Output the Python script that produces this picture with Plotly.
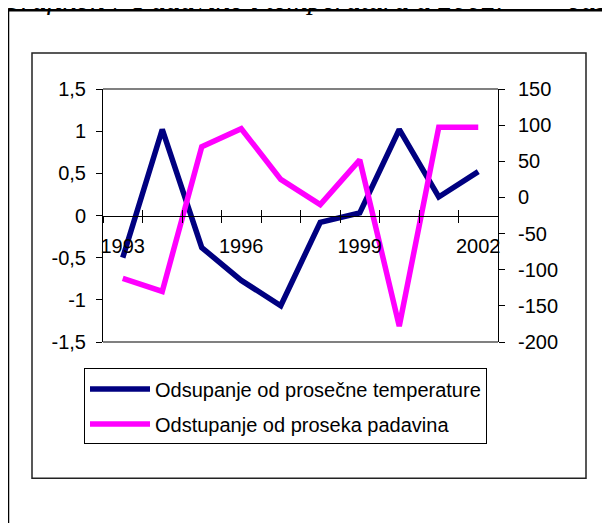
import plotly.graph_objects as go

years = [1993, 1994, 1995, 1996, 1997, 1998, 1999, 2000, 2001, 2002]
temp_dev = [-0.50, 1.02, -0.38, -0.77, -1.07, -0.08, 0.03, 1.02, 0.22, 0.52]
precip_dev = [-112, -130, 70, 95, 25, -10, 52, -178, 97, 97]

temp_name = "Odsupanje od prosečne temperature"
precip_name = "Odstupanje od proseka padavina"

x_label_years = [1993, 1996, 1999, 2002]
left_ticks = [-1.5, -1.0, -0.5, 0.0, 0.5, 1.0, 1.5]
left_labels = ["-1,5", "-1", "-0,5", "0", "0,5", "1", "1,5"]
right_ticks = [-200, -150, -100, -50, 0, 50, 100, 150]
right_labels = ["-200", "-150", "-100", "-50", "0", "50", "100", "150"]

title_text = "Grafikon 7 Padavine i temperatura u 2002."
title_tail = "ous"

boundaries = [y - 0.5 for y in years] + [years[-1] + 0.5]

# page body has an 8px margin; compensate so window pixels match
OFF = 8
W, H = 610, 523
PL, PR, PT, PB = 103, 498, 89, 342.5  # plot area in window pixels
L = PL - OFF
T = PT - OFF
R = W - (PR - OFF)
B = H - (PB - OFF)
pw = PR - PL
ph = PB - PT

def px(xp):
    return (xp - PL) / pw

def py(yp):
    return (PB - yp) / ph

FONT = "Liberation Sans, Arial, sans-serif"
FS = 20

fig = go.Figure()
fig.add_trace(go.Scatter(x=years, y=temp_dev, mode="lines", name=temp_name,
                         line=dict(color="#000080", width=5.5), legendgroup="a",
                         xaxis="x", yaxis="y"))
fig.add_trace(go.Scatter(x=years, y=precip_dev, mode="lines", name=precip_name,
                         line=dict(color="#FF00FF", width=5.5), legendgroup="b",
                         xaxis="x", yaxis="y2"))

zero_pos = (0 - left_ticks[0]) / (left_ticks[-1] - left_ticks[0])
xr = [boundaries[0], boundaries[-1]]

fig.update_layout(
    width=W, height=H,
    margin=dict(l=L, r=R, t=T, b=B, pad=0),
    paper_bgcolor="white", plot_bgcolor="white",
    font=dict(family=FONT, size=FS, color="black"),
    showlegend=True,
    legend=dict(x=px(84), y=py(369), xanchor="left", yanchor="top",
                bordercolor="black", borderwidth=1, bgcolor="white",
                font=dict(family=FONT, size=FS, color="black"),
                tracegroupgap=6, itemwidth=60),
    xaxis=dict(range=xr, anchor="free", position=zero_pos, tickmode="array",
               tickvals=boundaries, ticktext=[""] * len(boundaries),
               ticks="outside", ticklen=6, tickcolor="black", tickwidth=1,
               showline=True, linecolor="black", linewidth=1,
               showgrid=False, zeroline=False),
    xaxis2=dict(range=xr, overlaying="x", anchor="free", position=zero_pos,
                tickmode="array", tickvals=x_label_years,
                ticktext=[str(v) for v in x_label_years],
                ticks="", showline=False, showgrid=False, zeroline=False,
                ticklabelstandoff=16, tickfont=dict(family=FONT, size=FS)),
    xaxis3=dict(range=xr, overlaying="x", anchor="free", position=zero_pos,
                tickmode="array", tickvals=boundaries, showticklabels=False,
                ticks="inside", ticklen=6, tickcolor="black", tickwidth=1,
                showline=False, showgrid=False, zeroline=False),
    yaxis=dict(range=[left_ticks[0], left_ticks[-1]], tickmode="array",
               tickvals=left_ticks, ticktext=left_labels,
               ticks="outside", ticklen=6, tickcolor="black",
               showline=True, linecolor="black", linewidth=1,
               showgrid=False, zeroline=False, ticklabelstandoff=6),
    yaxis2=dict(range=[right_ticks[0], right_ticks[-1]], overlaying="y",
                side="right", anchor="x", tickmode="array",
                tickvals=right_ticks, ticktext=right_labels,
                ticks="outside", ticklen=6, tickcolor="black",
                showline=True, linecolor="black", linewidth=1,
                showgrid=False, zeroline=False, ticklabelstandoff=9),
)

# invisible helper traces so the overlay axes are drawn
fig.add_trace(go.Scatter(x=[years[0]], y=[0], xaxis="x2", yaxis="y",
                         mode="markers", marker=dict(opacity=0),
                         showlegend=False, hoverinfo="skip"))
fig.add_trace(go.Scatter(x=[years[0]], y=[0], xaxis="x3", yaxis="y",
                         mode="markers", marker=dict(opacity=0),
                         showlegend=False, hoverinfo="skip"))

shapes = [
    dict(type="line", xref="paper", yref="paper", x0=0, x1=1, y0=1, y1=1,
         line=dict(color="#808080", width=2), layer="below"),
    dict(type="line", xref="paper", yref="paper", x0=0, x1=1, y0=0, y1=0,
         line=dict(color="#808080", width=2), layer="below"),
    dict(type="rect", xref="paper", yref="paper", x0=px(32), x1=px(586),
         y0=py(479), y1=py(53), line=dict(color="#222222", width=1.5),
         layer="below"),
    dict(type="line", xref="paper", yref="paper", x0=px(8), x1=px(8),
         y0=py(10), y1=py(560), line=dict(color="black", width=2.5)),
    dict(type="line", xref="paper", yref="paper", x0=px(8), x1=px(640),
         y0=py(10), y1=py(10), line=dict(color="black", width=2.5)),
]
fig.update_layout(shapes=shapes)

fig.add_annotation(text="<i>" + title_text + "</i>", xref="paper", yref="paper",
                   x=px(-2), y=py(17), xanchor="left", yanchor="bottom",
                   showarrow=False, font=dict(family="Liberation Serif", size=29,
                                              color="black"))
fig.add_annotation(text="<i>" + title_tail + "</i>", xref="paper", yref="paper",
                   x=px(565), y=py(17), xanchor="left", yanchor="bottom",
                   showarrow=False, font=dict(family="Liberation Serif", size=29,
                                              color="black"))

fig.write_html("out.html")
